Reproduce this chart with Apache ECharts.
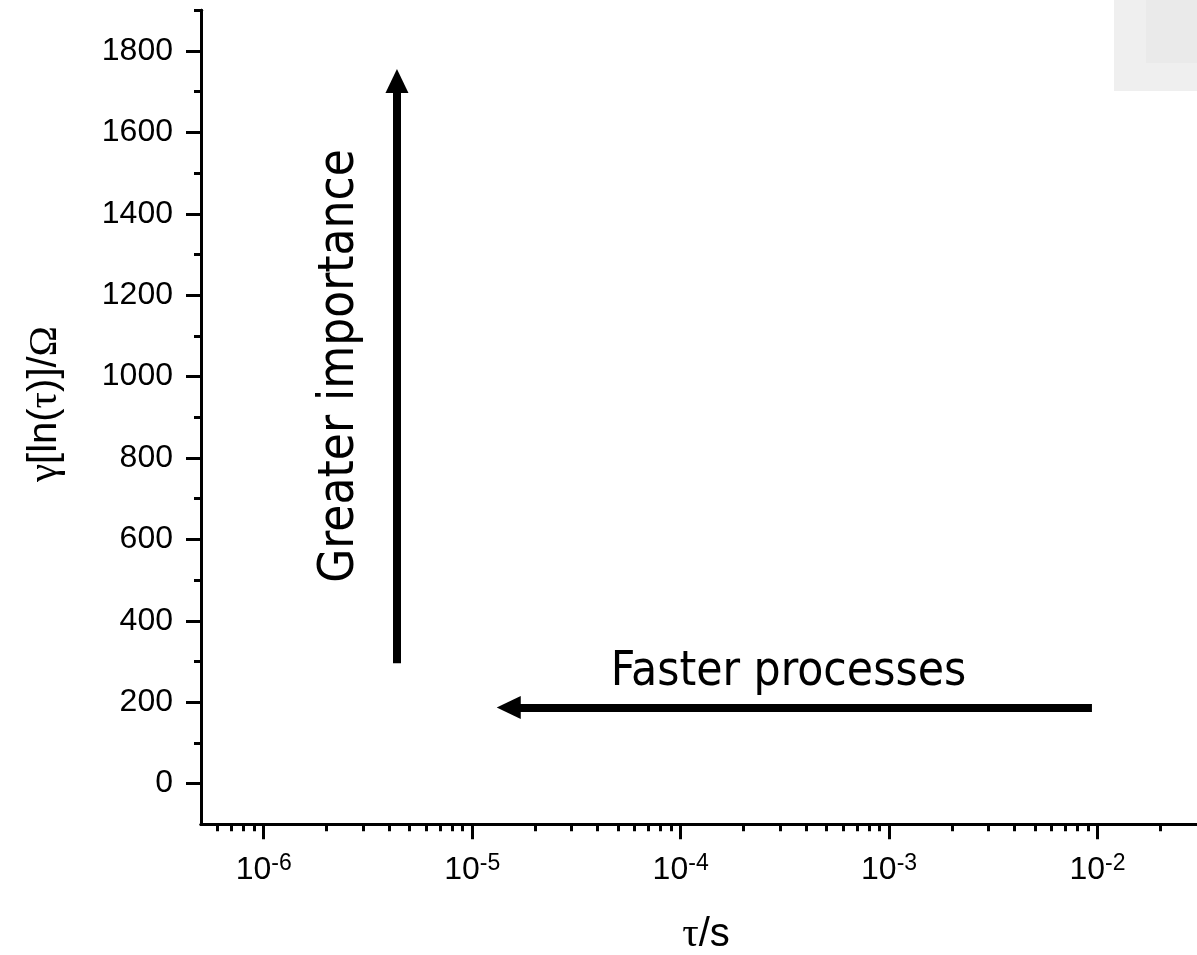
<!DOCTYPE html>
<html>
<head>
<meta charset="utf-8">
<script src="https://cdn.jsdelivr.net/npm/echarts@6/dist/echarts.min.js"></script>
<style>
  html, body { margin: 0; padding: 0; background: #ffffff; }
  #chart { width: 1197px; height: 955px; }
</style>
</head>
<body>
<div id="chart"></div>
<script>
// τ axis (seconds), shown on a logarithmic scale
const tauMin = 5e-7;
const tauMax = 0.03;
const tauDecadeTicks = [1e-6, 1e-5, 1e-4, 1e-3, 1e-2];
const tauMinorTicks = [
  6e-7, 7e-7, 8e-7, 9e-7,
  2e-6, 3e-6, 4e-6, 5e-6, 6e-6, 7e-6, 8e-6, 9e-6,
  2e-5, 3e-5, 4e-5, 5e-5, 6e-5, 7e-5, 8e-5, 9e-5,
  2e-4, 3e-4, 4e-4, 5e-4, 6e-4, 7e-4, 8e-4, 9e-4,
  2e-3, 3e-3, 4e-3, 5e-3, 6e-3, 7e-3, 8e-3, 9e-3,
  2e-2
];

// γ axis (Ω)
const gammaMin = -100;
const gammaMax = 1900;
const gammaMajorTicks = [0, 200, 400, 600, 800, 1000, 1200, 1400, 1600, 1800];
const gammaMinorTicks = [100, 300, 500, 700, 900, 1100, 1300, 1500, 1700, 1900];

// annotation arrows as [tail, head] points in [τ, γ]
const importanceArrow = [[4.356e-6, 296], [4.356e-6, 1726]];
const fasterArrow = [[9.40e-3, 187], [1.497e-5, 187]];
const importanceText = 'Greater importance';
const fasterText = 'Faster processes';

const lg = v => Math.log10(v);
const tickFont = '"Liberation Sans", Arial, sans-serif';
const greekFont = '"Liberation Serif", serif';
const noteFont = '"DejaVu Sans Condensed", "DejaVu Sans", sans-serif';

const chart = echarts.init(document.getElementById('chart'), null, { renderer: 'canvas' });

const axisLine = { show: true, onZero: false, lineStyle: { color: '#000', width: 3 } };

function arrowLine(pts) {
  return [{ coord: [lg(pts[0][0]), pts[0][1]] }, { coord: [lg(pts[1][0]), pts[1][1]] }];
}

const option = {
  animation: false,
  backgroundColor: '#ffffff',
  grid: { left: 201, right: 0, top: 10.3, bottom: 130.7, containLabel: false },
  xAxis: [
    {
      type: 'value',
      min: lg(tauMin),
      max: lg(tauMax),
      position: 'bottom',
      axisLine: axisLine,
      splitLine: { show: false },
      axisTick: {
        show: true, length: 15, lineStyle: { color: '#000', width: 3 },
        customValues: tauDecadeTicks.map(lg)
      },
      axisLabel: {
        show: true,
        margin: 28,
        color: '#000',
        fontFamily: tickFont,
        fontSize: 32,
        customValues: tauDecadeTicks.map(lg),
        formatter: v => '{b|10}{s|' + Math.round(v) + '}',
        rich: {
          b: { fontFamily: tickFont, fontSize: 32, lineHeight: 36, color: '#000' },
          s: { fontFamily: tickFont, fontSize: 23, lineHeight: 18, verticalAlign: 'top', color: '#000' }
        }
      }
    },
    {
      type: 'value',
      min: lg(tauMin),
      max: lg(tauMax),
      position: 'bottom',
      offset: 0,
      axisLine: axisLine,
      splitLine: { show: false },
      axisLabel: { show: false },
      axisTick: {
        show: true, length: 7, lineStyle: { color: '#000', width: 3 },
        customValues: tauMinorTicks.map(lg)
      }
    }
  ],
  yAxis: [
    {
      type: 'value',
      min: gammaMin,
      max: gammaMax,
      position: 'left',
      axisLine: axisLine,
      splitLine: { show: false },
      axisTick: {
        show: true, length: 15, lineStyle: { color: '#000', width: 3 },
        customValues: gammaMajorTicks
      },
      axisLabel: {
        show: true, margin: 28, color: '#000',
        fontFamily: tickFont, fontSize: 32,
        customValues: gammaMajorTicks,
        formatter: v => String(v)
      }
    },
    {
      type: 'value',
      min: gammaMin,
      max: gammaMax,
      position: 'left',
      offset: 0,
      axisLine: axisLine,
      splitLine: { show: false },
      axisLabel: { show: false },
      axisTick: {
        show: true, length: 7, lineStyle: { color: '#000', width: 3 },
        customValues: gammaMinorTicks
      }
    }
  ],
  series: [
    {
      type: 'line',
      xAxisIndex: 0,
      yAxisIndex: 0,
      data: [],
      markLine: {
        silent: true,
        animation: false,
        symbol: ['none', 'triangle'],
        symbolSize: [23, 24],
        label: { show: false },
        lineStyle: { color: '#000', width: 8, type: 'solid', opacity: 1 },
        emphasis: { disabled: true },
        data: [arrowLine(importanceArrow), arrowLine(fasterArrow)]
      }
    }
  ],
  graphic: [
    { type: 'rect', z: -1, shape: { x: 1114, y: 0, width: 83, height: 91 }, style: { fill: '#efefef' } },
    { type: 'rect', z: -1, shape: { x: 1146, y: 0, width: 51, height: 63 }, style: { fill: '#eaeaea' } },
    {
      type: 'text', x: 788.5, y: 673,
      style: { text: fasterText, font: '47.5px ' + noteFont, fill: '#000', align: 'center', verticalAlign: 'middle' }
    },
    {
      type: 'text', x: 340, y: 366, rotation: Math.PI / 2,
      style: { text: importanceText, font: '49px ' + noteFont, fill: '#000', align: 'center', verticalAlign: 'middle' }
    },
    {
      type: 'text', x: 45, y: 404, rotation: Math.PI / 2,
      style: {
        text: '{g|γ}[ln({g|τ})]/{g|Ω}',
        font: '40px ' + tickFont, fill: '#000', align: 'center', verticalAlign: 'middle',
        rich: { g: { fontFamily: greekFont, fontSize: 41, fill: '#000' } }
      }
    },
    {
      type: 'text', x: 706, y: 935,
      style: {
        text: '{g|τ}/s',
        font: '40px ' + tickFont, fill: '#000', align: 'center', verticalAlign: 'middle',
        rich: { g: { fontFamily: greekFont, fontSize: 41, fill: '#000' } }
      }
    }
  ]
};

chart.setOption(option);
</script>
</body>
</html>
